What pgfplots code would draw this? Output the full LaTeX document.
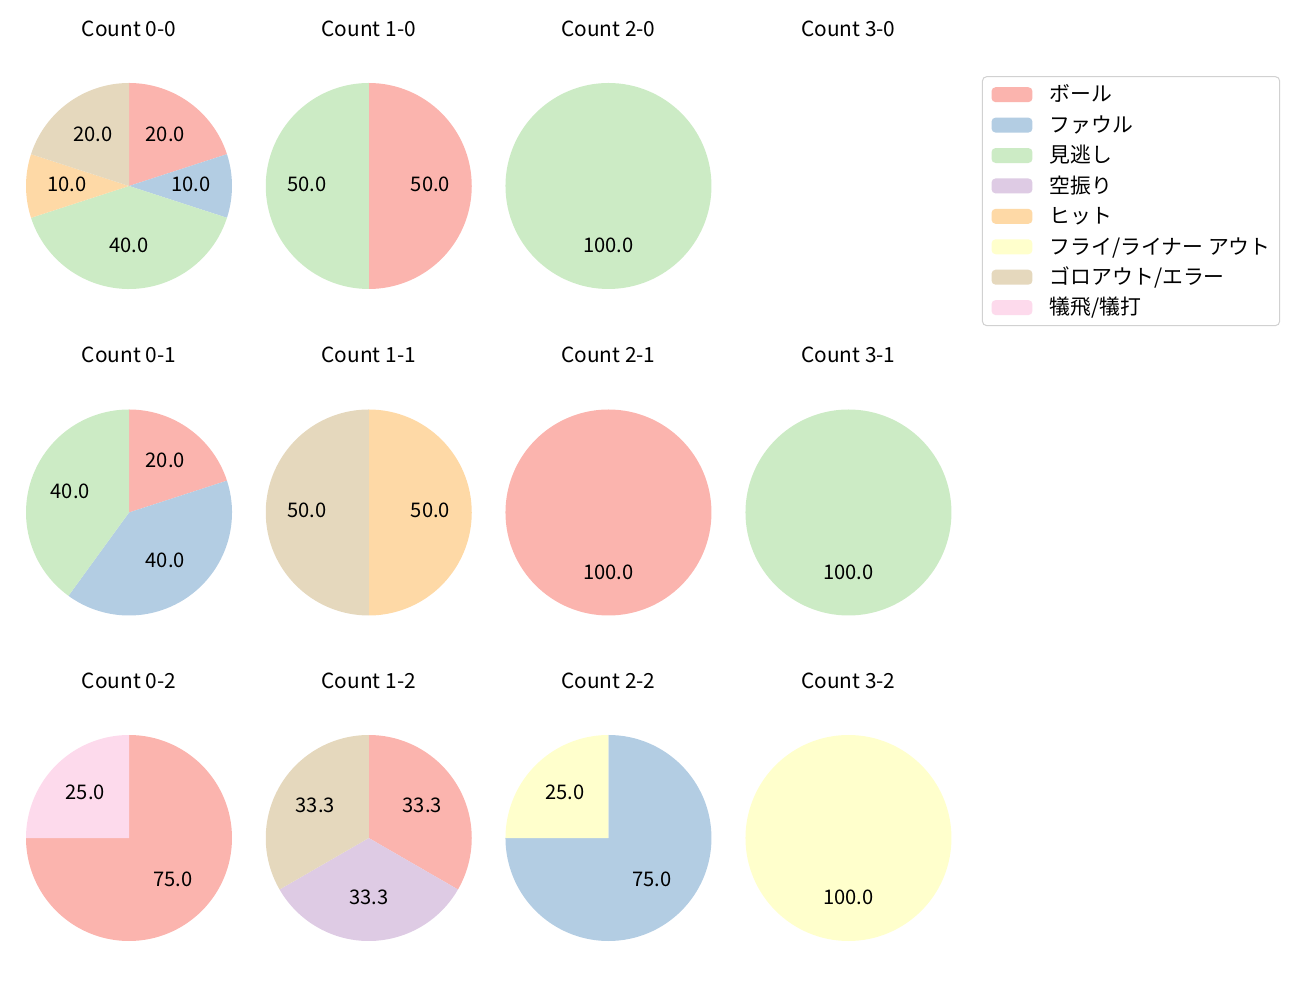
\documentclass[border=0pt]{standalone}
\usepackage{fontspec}
\setmainfont{Noto Sans CJK JP}
\usepackage{pgfplots}
\usepackage{pgfplotstable}
\pgfplotsset{compat=1.18}

\definecolor{cA}{HTML}{FBB4AE}
\definecolor{cB}{HTML}{B3CDE3}
\definecolor{cC}{HTML}{CCEBC5}
\definecolor{cD}{HTML}{DECBE4}
\definecolor{cE}{HTML}{FED9A6}
\definecolor{cF}{HTML}{FFFFCC}
\definecolor{cG}{HTML}{E5D8BD}
\definecolor{cH}{HTML}{FDDAEC}

% m = share in percent / cumulative share before the slice / colour
\pgfplotstableread[row sep=\\]{
x y m\\
0 0 20/0/cA\\
0 0 10/20/cB\\
0 0 40/30/cC\\
0 0 10/70/cE\\
0 0 20/80/cG\\
}\pieA
\pgfplotstableread[row sep=\\]{
x y m\\
0 0 50/0/cA\\
0 0 50/50/cC\\
}\pieB
\pgfplotstableread[row sep=\\]{
x y m\\
0 0 100/0/cC\\
}\pieC
\pgfplotstableread[row sep=\\]{
x y m\\
0 0 20/0/cA\\
0 0 40/20/cB\\
0 0 40/60/cC\\
}\pieD
\pgfplotstableread[row sep=\\]{
x y m\\
0 0 50/0/cE\\
0 0 50/50/cG\\
}\pieE
\pgfplotstableread[row sep=\\]{
x y m\\
0 0 100/0/cA\\
}\pieF
\pgfplotstableread[row sep=\\]{
x y m\\
0 0 100/0/cC\\
}\pieG
\pgfplotstableread[row sep=\\]{
x y m\\
0 0 75/0/cA\\
0 0 25/75/cH\\
}\pieH
\pgfplotstableread[row sep=\\]{
x y m\\
0 0 33.333/0/cA\\
0 0 33.333/33.333/cD\\
0 0 33.333/66.667/cG\\
}\pieI
\pgfplotstableread[row sep=\\]{
x y m\\
0 0 75/0/cB\\
0 0 25/75/cF\\
}\pieJ
\pgfplotstableread[row sep=\\]{
x y m\\
0 0 100/0/cF\\
}\pieK

\pgfdeclareplotmark{nothing}{}
\def\pieR{74.16pt}
\def\pieparse#1/#2/#3\relax{\def\pval{#1}\def\pcum{#2}\def\pcol{#3}}

\pgfplotsset{
  pieaxis/.style={
    hide axis, scale only axis, width=148.32pt, height=148.32pt,
    xmin=-1, xmax=1, ymin=-1, ymax=1, clip=false, anchor=center,
    title style={at={(axis description cs:0.5,1.183)}, anchor=south,
      inner sep=0pt, font=\fontsize{15}{18}\selectfont},
  },
  pieslices/.style={
    scatter, only marks, mark=nothing,
    point meta=explicit symbolic,
    scatter/@pre marker code/.code={%
      \expandafter\pieparse\pgfplotspointmeta\relax
      \pgfmathsetmacro\pa{90-3.6*\pcum}%
      \pgfmathsetmacro\pb{\pa-3.6*\pval}%
      \pgfmathsetmacro\pmid{(\pa+\pb)/2}%
      \fill[fill=\pcol, draw=none] (0pt,0pt) -- (\pa:\pieR)
        arc[start angle=\pa, end angle=\pb, radius=\pieR] -- cycle;
      \node[text=black, inner sep=0pt, font=\fontsize{14.5}{17}\selectfont, yshift=1.5pt]
        at (\pmid:{0.6*\pieR}) {\pgfmathprintnumber[fixed,fixed zerofill,precision=1,assume math mode=true]{\pval}};
    },
    scatter/@post marker code/.code={},
  },
}

\begin{document}
\begin{tikzpicture}
\path[use as bounding box] (0pt,0pt) rectangle (936pt,720pt);

% row 1
\begin{axis}[pieaxis, at={(92.88pt,586.08pt)}, title={Count 0-0}]
\addplot[pieslices] table[x=x,y=y,meta=m] {\pieA};
\end{axis}
\begin{axis}[pieaxis, at={(265.5pt,586.08pt)}, title={Count 1-0}]
\addplot[pieslices] table[x=x,y=y,meta=m] {\pieB};
\end{axis}
\begin{axis}[pieaxis, at={(438.1pt,586.08pt)}, title={Count 2-0}]
\addplot[pieslices] table[x=x,y=y,meta=m] {\pieC};
\end{axis}
\begin{axis}[pieaxis, at={(610.9pt,586.08pt)}, title={Count 3-0},
  legend cell align=left,
  legend image code/.code={\fill[#1] (0pt,-5.4pt) rectangle (29.5pt,5.4pt);},
  legend style={at={(axis description cs:1.148,1.033)}, anchor=north west,
    draw=black!18, line width=0.72pt, rounded corners=3pt,
    font=\fontsize{15}{18}\selectfont, inner xsep=6.5pt, inner ysep=2pt,
    nodes={inner sep=0pt, text height=16.2pt, text depth=5.7pt},
    row sep=0pt, /tikz/every odd column/.append style={column sep=12.5pt}},
]
\addlegendimage{fill=cA, draw=none}
\addlegendentry{ボール}
\addlegendimage{fill=cB, draw=none}
\addlegendentry{ファウル}
\addlegendimage{fill=cC, draw=none}
\addlegendentry{見逃し}
\addlegendimage{fill=cD, draw=none}
\addlegendentry{空振り}
\addlegendimage{fill=cE, draw=none}
\addlegendentry{ヒット}
\addlegendimage{fill=cF, draw=none}
\addlegendentry{フライ/ライナー アウト}
\addlegendimage{fill=cG, draw=none}
\addlegendentry{ゴロアウト/エラー}
\addlegendimage{fill=cH, draw=none}
\addlegendentry{犠飛/犠打}
\end{axis}

% row 2
\begin{axis}[pieaxis, at={(92.88pt,351.0pt)}, title={Count 0-1}]
\addplot[pieslices] table[x=x,y=y,meta=m] {\pieD};
\end{axis}
\begin{axis}[pieaxis, at={(265.5pt,351.0pt)}, title={Count 1-1}]
\addplot[pieslices] table[x=x,y=y,meta=m] {\pieE};
\end{axis}
\begin{axis}[pieaxis, at={(438.1pt,351.0pt)}, title={Count 2-1}]
\addplot[pieslices] table[x=x,y=y,meta=m] {\pieF};
\end{axis}
\begin{axis}[pieaxis, at={(610.9pt,351.0pt)}, title={Count 3-1}]
\addplot[pieslices] table[x=x,y=y,meta=m] {\pieG};
\end{axis}

% row 3
\begin{axis}[pieaxis, at={(92.88pt,116.64pt)}, title={Count 0-2}]
\addplot[pieslices] table[x=x,y=y,meta=m] {\pieH};
\end{axis}
\begin{axis}[pieaxis, at={(265.5pt,116.64pt)}, title={Count 1-2}]
\addplot[pieslices] table[x=x,y=y,meta=m] {\pieI};
\end{axis}
\begin{axis}[pieaxis, at={(438.1pt,116.64pt)}, title={Count 2-2}]
\addplot[pieslices] table[x=x,y=y,meta=m] {\pieJ};
\end{axis}
\begin{axis}[pieaxis, at={(610.9pt,116.64pt)}, title={Count 3-2}]
\addplot[pieslices] table[x=x,y=y,meta=m] {\pieK};
\end{axis}
\end{tikzpicture}
\end{document}
